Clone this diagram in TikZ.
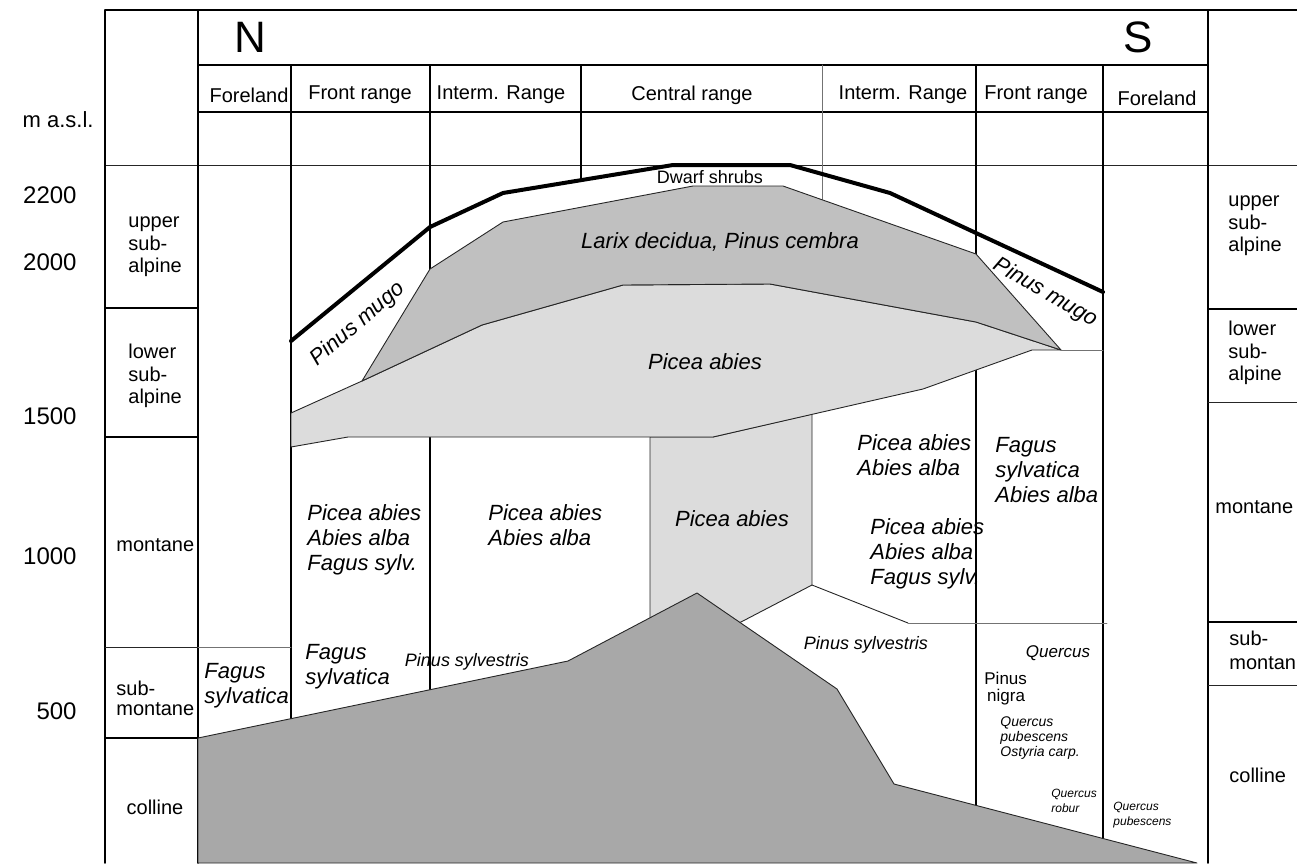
\documentclass[tikz,border=0pt]{standalone}
\usepackage{fontspec}
\setmainfont{Liberation Sans}
\definecolor{groundgray}{HTML}{A8A8A8}
\definecolor{larixgray}{HTML}{C0C0C0}
\definecolor{piceagray}{HTML}{DCDCDC}
\begin{document}
\begin{tikzpicture}[x=0.5pt,y=-0.5pt,line join=round,line cap=round,
		frm/.style={line width=0.75pt},
		fine/.style={line width=0.4pt,black!55},
		rim/.style={line width=0.45pt,black!85},
		zone/.style={font=\fontsize{10}{11.3}\selectfont,align=left,inner sep=0pt},
		alt/.style={font=\fontsize{12}{14}\selectfont,inner sep=0pt,anchor=east},
		spec/.style={font=\fontsize{11}{12.6}\selectfont\itshape,align=left,inner sep=0pt},
		spsm/.style={font=\fontsize{9}{10}\selectfont\itshape,align=left,inner sep=0pt}]
		\useasboundingbox (0,0) rectangle (1297,863);
		%\draw[line width=0.05pt,gray,dashed] (0,0) grid[step=100] (1297,863);
		\draw[frm] (105,10)--(1297,10) (198,65)--(1208,65) (198,112)--(1208,112);
		\draw[rim] (105,165)--(1297,165);
		\draw[frm] (105,10)--(105,863) (198,10)--(198,863) (1208,10)--(1208,863);
		\draw[frm] (291,65)--(291,720) (430,65)--(430,690) (581,65)--(581,181) (976,65)--(976,810) (1103,65)--(1103,840);
		\draw[fine] (822,65)--(822,215);
		\draw[frm] (105,308)--(198,308) (105,437)--(198,437) (105,738)--(198,738);
		\draw[rim] (105,647)--(198,647);
		\draw[frm] (1208,309)--(1297,309) (1208,622)--(1297,622);
		\draw[rim] (1208,402)--(1297,402) (1208,685)--(1297,685);
		\draw[fine] (198,647)--(291,647);
		% belts
		\draw[rim,fill=piceagray] (650,437)--(713,437)--(812,414)--(812,585)--(741,622)--(650,640)--cycle;
		\draw[rim,fill=piceagray] (291,413)--(362,381)--(482,325)--(623,285)--(770,284)--(976,322)--(1061,350)--(1032,350)--(923,389)--(713,437)--(348,437)--(291,447)--cycle;
		\draw[rim,fill=larixgray] (362,381)--(430,269)--(503,222)--(693,186)--(783,186)--(976,254)--(1061,350)--(976,322)--(770,284)--(623,285)--(482,325)--cycle;
		\draw[fine] (1061,350)--(1103,350);
		\draw[rim] (812,585)--(908,623);
		\draw[fine] (908,623)--(1107,623);
		\draw[rim,fill=groundgray] (198,738)--(568,661)--(697,593)--(837,689)--(894,784)--(1197,863)--(198,863)--cycle;
		\draw[line width=2pt] (291,341)--(430,227)--(503,193)--(673,165)--(790,165)--(890,193)--(976,233)--(1103,292);
		% header
		\node[font=\fontsize{22}{24}\selectfont,inner sep=0pt] (north) at (250,37) {N};
		\node[font=\fontsize{22}{24}\selectfont,inner sep=0pt] (south) at (1138,37) {S};
		\node[zone] (hforen) at (249,95) {Foreland};
		\node[zone] (hfrontn) at (360,95) {Front range};
		\node[zone] (hintern) at (501,95) {Interm. Range};
		\node[zone] (hcentral) at (692,95) {Central range};
		\node[zone] (hinters) at (903,95) {Interm. Range};
		\node[zone] (hfronts) at (1036,95) {Front range};
		\node[zone] (hfores) at (1157,98) {Foreland};
		% altitude
		\node[alt,font=\fontsize{11}{13}\selectfont] (masl) at (94,120) {m a.s.l.};
		\node[alt] (a2200) at (77,195) {2200};
		\node[alt] (a2000) at (77,262) {2000};
		\node[alt] (a1500) at (77,416) {1500};
		\node[alt] (a1000) at (77,556) {1000};
		\node[alt] (a500) at (77,711) {500};
		\node[zone,anchor=west] (lupper) at (128,247) {upper\\sub-\\alpine};
		\node[zone,anchor=west] (llower) at (128,376) {lower\\sub-\\alpine};
		\node[zone,anchor=west] (lmont) at (116,545) {montane};
		\node[zone,anchor=west,font=\fontsize{10}{10}\selectfont] (lsubm) at (116,698) {sub-\\montane};
		\node[zone] (lcoll) at (155,807) {colline};
		\node[zone,anchor=west] (rupper) at (1228,226) {upper\\sub-\\alpine};
		\node[zone,anchor=west] (rlower) at (1228,353) {lower\\sub-\\alpine};
		\node[zone,anchor=west] (rmont) at (1215,507) {montane};
		\node[zone,anchor=west,font=\fontsize{10}{12}\selectfont] (rsubm) at (1229,650) {sub-\\montan};
		\node[zone,anchor=west] (rcoll) at (1229,775) {colline};
		% species
		\node[font=\fontsize{9}{10}\selectfont,inner sep=0pt] (dwarf) at (710,177) {Dwarf shrubs};
		\node[spec] (larix) at (720,242) {Larix decidua, Pinus cembra};
		\node[spec] (piceaband) at (705,362) {Picea abies};
		\node[spec,rotate=41] (mugon) at (358,324) {Pinus mugo};
		\node[spec,rotate=-30] (mugos) at (1045,293) {Pinus mugo};
		\node[spec,anchor=west] (mixfront) at (307,540) {Picea abies\\Abies alba\\Fagus sylv.};
		\node[spec,anchor=west] (mixinter) at (488,525) {Picea abies\\Abies alba};
		\node[spec] (piceacentral) at (732,519) {Picea abies};
		\node[spec,anchor=west] (mixinters) at (857,455) {Picea abies\\Abies alba};
		\node[spec,anchor=west] (fagusfronts) at (995,470) {Fagus\\sylvatica\\Abies alba};
		\node[spec,anchor=west] (mixlow) at (870,554) {Picea abies\\Abies alba\\Fagus sylv.};
		\node[spec,anchor=west] (fagusfore) at (204,686) {Fagus\\sylvatica};
		\node[spec,anchor=west] (fagusfront) at (305,667) {Fagus\\sylvatica};
		\node[spsm] (sylvn) at (467,662) {Pinus sylvestris};
		\node[spsm] (sylvs) at (866,645) {Pinus sylvestris};
		\node[spsm,font=\fontsize{8.5}{9}\selectfont\itshape] (quercus) at (1058,653) {Quercus};
		\node[font=\fontsize{8.5}{8.5}\selectfont,align=left,anchor=west,inner sep=0pt] (nigra) at (984,689) {Pinus\\\,nigra};
		\node[font=\fontsize{7}{7.5}\selectfont\itshape,align=left,anchor=west,inner sep=0pt] (pubes) at (1000,738) {Quercus\\pubescens\\Ostyria carp.};
		\node[font=\fontsize{6}{7.5}\selectfont\itshape,align=left,anchor=west,inner sep=0pt] (robur) at (1051,801) {Quercus\\robur};
		\node[font=\fontsize{6}{7.5}\selectfont\itshape,align=left,anchor=west,inner sep=0pt] (pubesf) at (1113,815) {Quercus\\pubescens};
	\end{tikzpicture}
\end{document}
